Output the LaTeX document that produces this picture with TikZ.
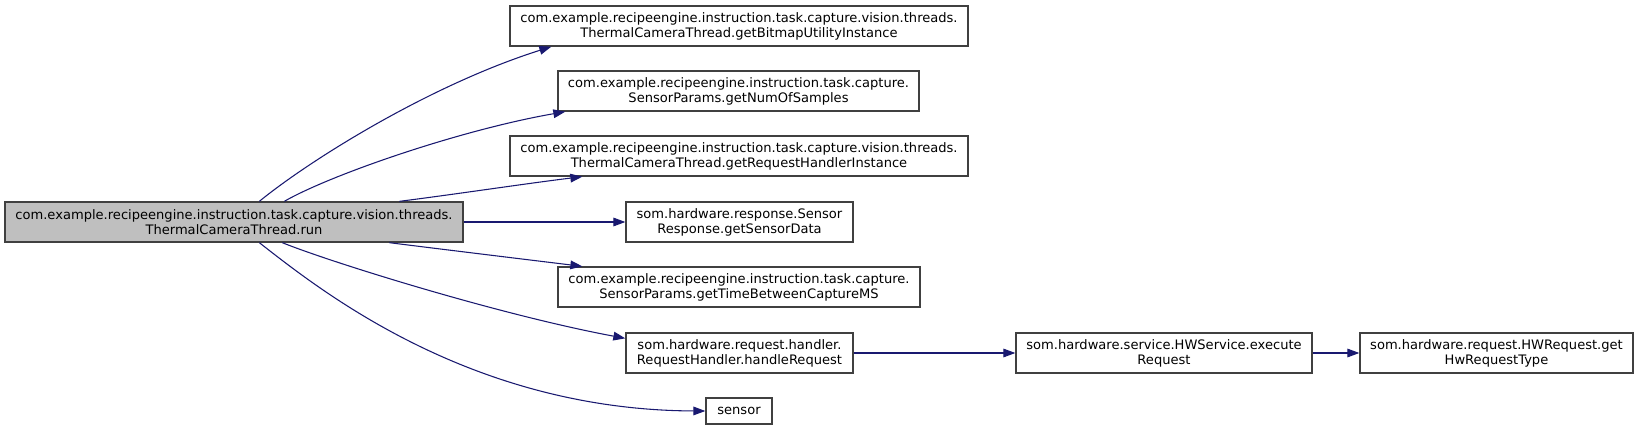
\documentclass[tikz,border=0pt]{standalone}
\usepackage{fontspec}
\setmainfont{DejaVu Sans}
\usetikzlibrary{arrows.meta,calc}
\definecolor{edgeblue}{HTML}{191970}
\definecolor{boxline}{HTML}{404040}
\definecolor{rootfill}{HTML}{BFBFBF}

\begin{document}
\begin{tikzpicture}[
x=0.75pt, y=-0.75pt,
fn/.style={draw=boxline, line width=1pt, fill=white, align=center, inner sep=0pt, minimum height=30pt, font=\fontsize{9.8}{11.2}\selectfont},
root/.style={fn, fill=rootfill},
call/.style={-{Triangle[length=9pt, width=6.5pt]}, line width=0.8pt, draw=edgeblue}
]
\useasboundingbox (0,0) rectangle (1639,430);
\node[root, minimum width=343.5pt] (run) at (234,222) {com.example.recipeengine.instruction.task.capture.vision.threads.\\ThermalCameraThread.run};
\node[fn, minimum width=343.5pt] (bitmap) at (739,26) {com.example.recipeengine.instruction.task.capture.vision.threads.\\ThermalCameraThread.getBitmapUtilityInstance};
\node[fn, minimum width=270.75pt] (numsamples) at (738.5,91) {com.example.recipeengine.instruction.task.capture.\\SensorParams.getNumOfSamples};
\node[fn, minimum width=343.5pt] (handlerinst) at (739,156) {com.example.recipeengine.instruction.task.capture.vision.threads.\\ThermalCameraThread.getRequestHandlerInstance};
\node[fn, minimum width=170.25pt] (sensordata) at (739.5,222) {som.hardware.response.Sensor\\Response.getSensorData};
\node[fn, minimum width=271.5pt] (timebetween) at (739,287) {com.example.recipeengine.instruction.task.capture.\\SensorParams.getTimeBetweenCaptureMS};
\node[fn, minimum width=170.25pt] (handlereq) at (739.5,353) {som.hardware.request.handler.\\RequestHandler.handleRequest};
\node[fn, minimum width=49.5pt, minimum height=19.5pt] (sensor) at (739,411) {sensor};
\node[fn, minimum width=222pt] (execute) at (1164,353) {som.hardware.service.HWService.execute\\Request};
\node[fn, minimum width=204.75pt] (hwtype) at (1496.5,353) {som.hardware.request.HWRequest.get\\HwRequestType};
% calls from run
\draw[call] ($(run.north west)+(255,0)$) .. controls (310,160) and (430,85) .. ($(bitmap.south west)+(42,0)$);
\draw[call] ($(run.north west)+(280,0)$) .. controls (330,175) and (460,130) .. ($(numsamples.south west)+(8,0)$);
\draw[call] ($(run.north west)+(395,0)$) .. controls (450,195) and (530,183) .. ($(handlerinst.south west)+(73,0)$);
\draw[call] (run.east) -- (sensordata.west);
\draw[call] ($(run.south west)+(385,0)$) .. controls (440,249) and (530,260) .. ($(timebetween.north west)+(25,0)$);
\draw[call] ($(run.south west)+(278,0)$) .. controls (330,262) and (500,315) .. ($(handlereq.north west)+(0,6)$);
\draw[call] ($(run.south west)+(255,0)$) .. controls (320,290) and (470,410) .. (sensor.west);
% further calls
\draw[call] (handlereq.east) -- (execute.west);
\draw[call] (execute.east) -- (hwtype.west);
\end{tikzpicture}
\end{document}
